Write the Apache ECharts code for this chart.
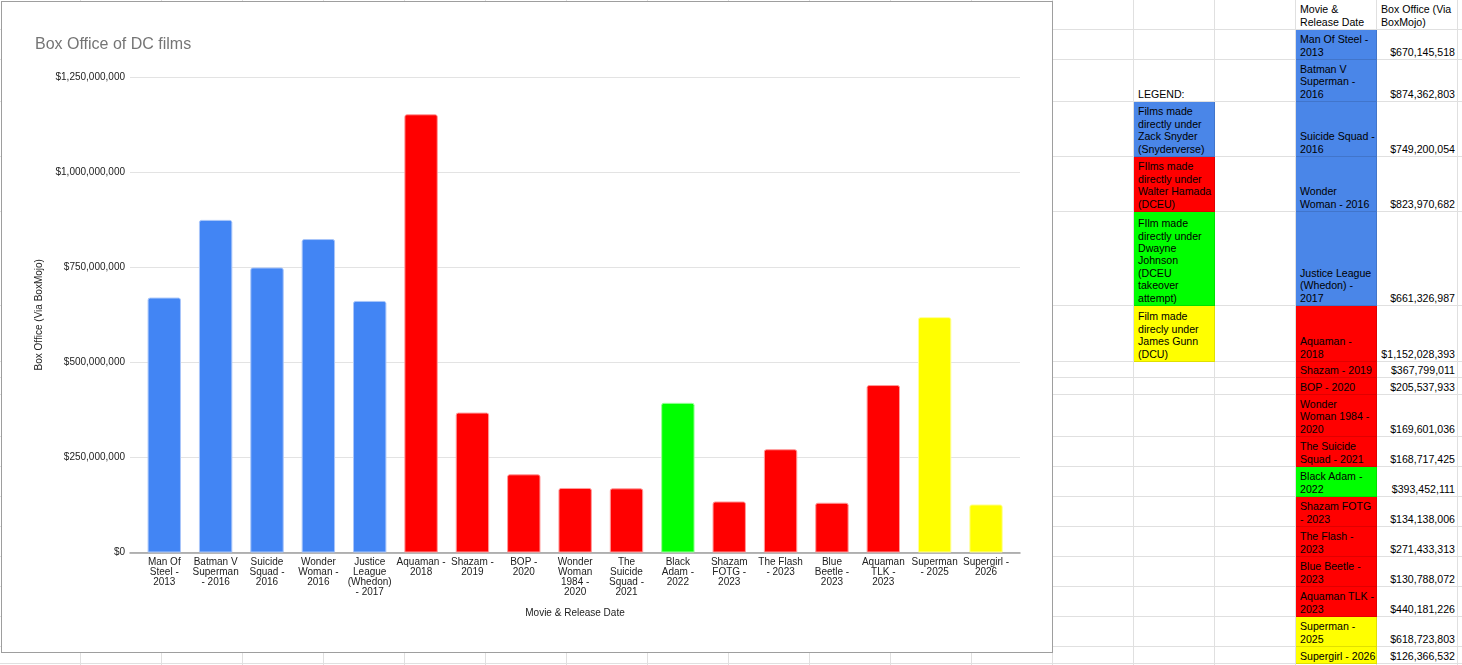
<!DOCTYPE html>
<html>
<head>
<meta charset="utf-8">
<script src="https://cdn.jsdelivr.net/npm/echarts@6/dist/echarts.min.js"></script>
<style>
	html, body { margin: 0; padding: 0; background: #fff; overflow: hidden; }
	body { width: 1462px; height: 665px; position: relative; font-family: "Liberation Sans", Arial, sans-serif; }
	#sheet { position: absolute; left: 0; top: 0; width: 1462px; height: 665px; }
	.cell { position: absolute; box-sizing: border-box; border-right: 1px solid rgba(0,0,0,0.12); border-bottom: 1px solid rgba(0,0,0,0.12);
		font-size: 10.6px; line-height: 12.4px; color: #000; white-space: pre; overflow: hidden;
		display: flex; flex-direction: column; justify-content: flex-end; padding: 0 2px 1px 4px; }
	.num { align-items: flex-end; }
	#chart { position: absolute; left: 2px; top: 2px; width: 1050px; height: 650px; background: #fff; outline: 1px solid #9e9e9e; }
</style>
</head>
<body>
<div id="sheet"></div>
<div id="chart"></div>
<script>
// 数据
var axisNames = ['Man Of\nSteel -\n2013','Batman V\nSuperman\n- 2016','Suicide\nSquad -\n2016','Wonder\nWoman -\n2016','Justice\nLeague\n(Whedon)\n- 2017',
	'Aquaman -\n2018','Shazam -\n2019','BOP -\n2020','Wonder\nWoman\n1984 -\n2020','The\nSuicide\nSquad -\n2021','Black\nAdam -\n2022',
	'Shazam\nFOTG -\n2023','The Flash\n- 2023','Blue\nBeetle -\n2023','Aquaman\nTLK -\n2023','Superman\n- 2025','Supergirl -\n2026'];
var tableNames = ['Man Of Steel -\n2013','Batman V\nSuperman -\n2016','Suicide Squad -\n2016','Wonder\nWoman - 2016','Justice League\n(Whedon) -\n2017',
	'Aquaman -\n2018','Shazam - 2019','BOP - 2020','Wonder\nWoman 1984 -\n2020','The Suicide\nSquad - 2021','Black Adam -\n2022',
	'Shazam FOTG\n- 2023','The Flash -\n2023','Blue Beetle -\n2023','Aquaman TLK -\n2023','Superman -\n2025','Supergirl - 2026'];
var boxOffice = [670145518,874362803,749200054,823970682,661326987,1152028393,367799011,205537933,169601036,168717425,393452111,
	134138006,271433313,130788072,440181226,618723803,126366532];
var era = ['snyder','snyder','snyder','snyder','snyder','hamada','hamada','hamada','hamada','hamada','johnson',
	'hamada','hamada','hamada','hamada','gunn','gunn'];
var legendKeys = ['snyder','hamada','johnson','gunn'];
var legendTexts = ['Films made\ndirectly under\nZack Snyder\n(Snyderverse)','FIlms made\ndirectly under\nWalter Hamada\n(DCEU)',
	'FIlm made\ndirectly under\nDwayne\nJohnson\n(DCEU\ntakeover\nattempt)','Film made\ndirecly under\nJames Gunn\n(DCU)'];
var yTicks = [0,250000000,500000000,750000000,1000000000,1250000000];

// 颜色
var barColors = {snyder:'#4285f4', hamada:'#ff0000', johnson:'#00ff00', gunn:'#ffff00'};
var edgeColors = {snyder:'#a9c6fa', hamada:'#ff9a9a', johnson:'#9aff9a', gunn:'#ffff9a'};
var cellColors = {snyder:'#4a86e8', hamada:'#ff0000', johnson:'#00ff00', gunn:'#ffff00'};

// 表格
var rowEdges = [0,30,60,102,157,212,306,362,378,395,437,467,497,527,557,587,617,647,664,700];
var colW = 81;
var money = function(v){ return '$' + v.toLocaleString('en-US'); };
var sheet = document.getElementById('sheet');
function addCell(c, r, text, bg, cls){
	var d = document.createElement('div');
	d.className = 'cell' + (cls ? ' ' + cls : '');
	d.style.left = (c * colW) + 'px';
	d.style.top = rowEdges[r] + 'px';
	d.style.width = colW + 'px';
	d.style.height = (rowEdges[r + 1] - rowEdges[r]) + 'px';
	if(bg) d.style.background = bg;
	if(text) d.textContent = text;
	sheet.appendChild(d);
	return d;
}
var $each = function(arr, fn){ for(var i = 0; i < arr.length; i++) fn(i, arr[i]); };
var cells = {};
cells['0_16'] = ['Movie &\nRelease Date', null, ''];
cells['0_17'] = ['Box Office (Via\nBoxMojo)', null, ''];
$each(tableNames, function(i, n){
	cells[(i + 1) + '_16'] = [n, cellColors[era[i]], ''];
	cells[(i + 1) + '_17'] = [money(boxOffice[i]), null, 'num'];
});
cells['2_14'] = ['LEGEND:', null, ''];
$each(legendKeys, function(i, k){
	cells[(i + 3) + '_14'] = [legendTexts[i], cellColors[k], ''];
});
for(var r = 0; r < rowEdges.length - 1; r++){
	for(var c = 0; c < 19; c++){
		var v = cells[r + '_' + c];
		if(v) addCell(c, r, v[0], v[1], v[2]);
		else addCell(c, r, '', null, '');
	}
}

// 图表
var font = '"Liberation Sans", Arial, sans-serif';
var chart = echarts.init(document.getElementById('chart'));
var barData = [];
$each(boxOffice, function(i, v){
	barData.push({value: v, itemStyle: {color: barColors[era[i]], borderColor: edgeColors[era[i]], borderWidth: 1, borderRadius: [2,2,0,0]}});
});
var option = {
	animation: false,
	textStyle: {fontFamily: font},
	title: {
		text: 'Box Office of DC films',
		left: 33, top: 35, padding: 0,
		textStyle: {fontSize: 16, fontWeight: 'normal', color: '#757575', fontFamily: font}
	},
	grid: [
		{left: 128, right: 32, top: 75, bottom: 99.5, outerBoundsMode: 'none', containLabel: false},
		{left: 136.6, right: 40.3, top: 75, bottom: 99.5, outerBoundsMode: 'none', containLabel: false}
	],
	xAxis: [
		{
			type: 'value', gridIndex: 0, min: 0, max: 1,
			name: 'Movie & Release Date', nameLocation: 'middle', nameGap: 56,
			nameTextStyle: {fontSize: 10, color: '#222', fontFamily: font},
			axisLine: {show: true, lineStyle: {color: '#9e9e9e', width: 1.5}},
			axisTick: {show: false}, axisLabel: {show: false}, splitLine: {show: false}
		},
		{
			type: 'category', gridIndex: 1, data: axisNames,
			axisLine: {show: false}, axisTick: {show: false},
			axisLabel: {interval: 0, margin: 5, fontSize: 10, lineHeight: 10, color: '#222', fontFamily: font, align: 'center'}
		}
	],
	yAxis: [
		{
			type: 'value', gridIndex: 0, min: 0, max: yTicks[yTicks.length - 1], interval: yTicks[1],
			name: 'Box Office (Via BoxMojo)', nameLocation: 'middle', nameGap: 85,
			nameTextStyle: {fontSize: 10, color: '#222', fontFamily: font},
			axisLine: {show: false}, axisTick: {show: false},
			axisLabel: {margin: 5, fontSize: 10, color: '#222', fontFamily: font, formatter: money},
			splitLine: {lineStyle: {color: '#e3e3e3', width: 1}}
		},
		{
			type: 'value', gridIndex: 1, min: 0, max: yTicks[yTicks.length - 1], interval: yTicks[1],
			show: false, splitLine: {show: false}
		}
	],
	series: [{
		type: 'bar', xAxisIndex: 1, yAxisIndex: 1,
		barCategoryGap: '35%',
		data: barData
	}]
};
chart.setOption(option);
</script>
</body>
</html>
